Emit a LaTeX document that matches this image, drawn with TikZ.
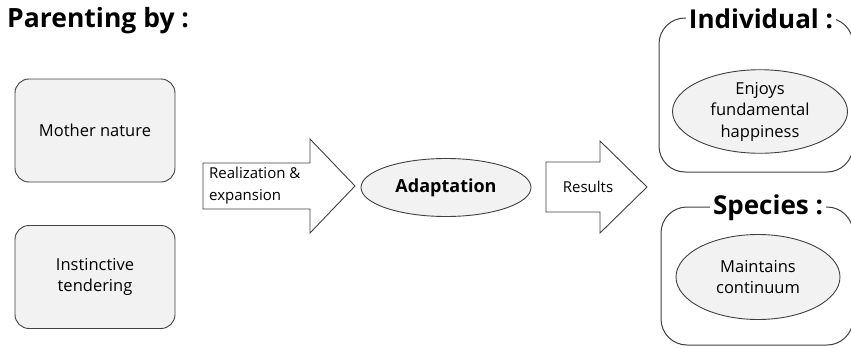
\documentclass[tikz,border=0pt]{standalone}
\usepackage{fontspec}
\setmainfont{Open Sans}
\usetikzlibrary{shapes.geometric}
\definecolor{bordc}{HTML}{404040}
\definecolor{fillc}{HTML}{F2F2F2}
\tikzset{
  srcbox/.style={draw=bordc, fill=fillc, rounded corners=14pt, line width=0.9pt, minimum width=160pt, minimum height=103pt, align=center, font=\fontsize{16.5}{21}\selectfont},
  ovalnode/.style={draw=bordc, fill=fillc, ellipse, line width=0.9pt, inner sep=0pt, align=center, font=\fontsize{16.5}{21.5}\selectfont},
  bigarrow/.style={draw=bordc, fill=white, line width=0.9pt},
  grp/.style={draw=bordc, rounded corners=26pt, line width=1pt},
  grptitle/.style={fill=white, inner sep=3pt, font=\bfseries\fontsize{26}{29}\selectfont},
  lbl/.style={font=\fontsize{15}{22}\selectfont, inner sep=0pt}
}
\begin{document}
\begin{tikzpicture}[x=1pt,y=-1pt]
\useasboundingbox (0,0) rectangle (851,348);
% title
\node[anchor=west, font=\bfseries\fontsize{26.5}{30}\selectfont, inner sep=0pt] (title) at (7,21) {Parenting by :};
% source boxes
\node[srcbox] (mother) at (95,130.5) {Mother nature};
\node[srcbox] (instinct) at (95,277) {Instinctive\\tendering};
% arrow 1
\draw[bigarrow] (203,163) -- (310,163) -- (310,139) -- (355,186) -- (310,233) -- (310,209) -- (203,209) -- cycle;
\node[lbl, anchor=west, align=left] (real) at (209,186) {Realization \&\\expansion};
% adaptation
\node[ovalnode, minimum width=170pt, minimum height=58pt, font=\bfseries\fontsize{18}{22}\selectfont] (adapt) at (446,187.5) {Adaptation};
% arrow 2
\draw[bigarrow] (546,162) -- (600,162) -- (600,141) -- (647,187) -- (600,233) -- (600,212) -- (546,212) -- cycle;
\node[lbl] (res) at (588,187) {Results};
% individual group
\draw[grp] (659,18) rectangle (853,172);
\node[grptitle] (indt) at (761,19) {Individual :};
\node[ovalnode, minimum width=175pt, minimum height=77pt] (enjoy) at (760,111.5) {Enjoys\\fundamental\\happiness};
% species group
\draw[grp] (661,207) rectangle (853,345);
\node[grptitle] (spt) at (768,208) {Species :};
\node[ovalnode, minimum width=164pt, minimum height=85pt] (maint) at (758,277) {Maintains\\continuum};
\end{tikzpicture}
\end{document}
